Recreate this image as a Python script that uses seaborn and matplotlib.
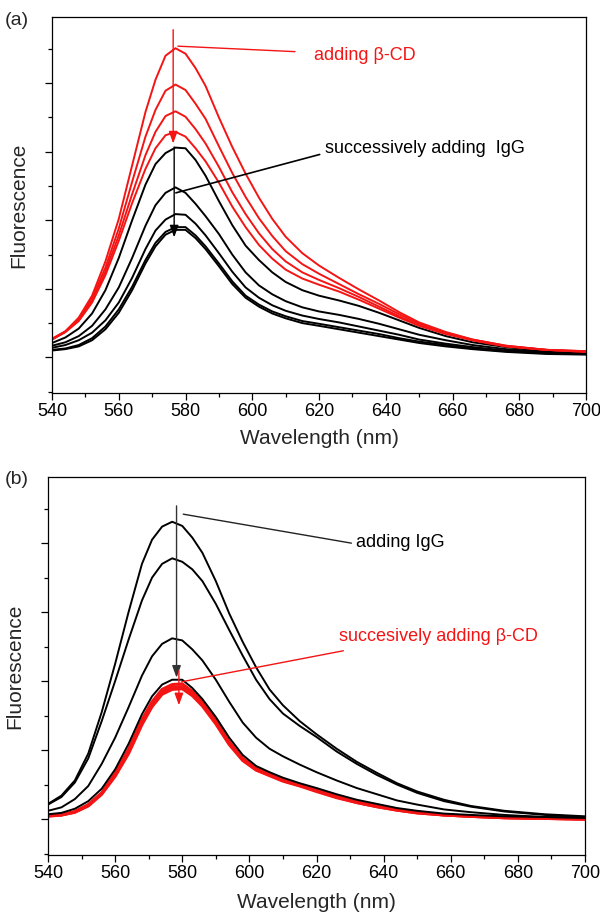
import matplotlib
matplotlib.use("Agg")
import matplotlib.pyplot as plt
import seaborn as sns
import pandas as pd
from matplotlib.ticker import MultipleLocator, NullFormatter

# wavelength grid (nm)
wl = [540, 544, 548, 552, 556, 560, 564, 568, 571, 574, 577, 580, 583, 586, 590, 594,
      598, 602, 606, 610, 615, 620, 626, 632, 638, 644, 650, 658, 666, 676, 688, 700]

# panel (a): probe + beta-CD (red), then successive IgG (black)
a_red1 = [0.27, 0.38, 0.58, 0.90, 1.40, 2.02, 2.80, 3.58, 4.05, 4.40, 4.51, 4.43, 4.22, 3.96, 3.50, 3.07,
          2.68, 2.33, 2.02, 1.76, 1.52, 1.34, 1.16, 0.99, 0.83, 0.66, 0.51, 0.37, 0.26, 0.17, 0.11, 0.09]
a_red2 = [0.27, 0.38, 0.56, 0.86, 1.31, 1.88, 2.56, 3.22, 3.61, 3.89, 3.98, 3.90, 3.70, 3.48, 3.08, 2.69,
          2.34, 2.03, 1.77, 1.55, 1.36, 1.22, 1.07, 0.92, 0.78, 0.63, 0.49, 0.36, 0.26, 0.17, 0.11, 0.09]
a_red3 = [0.26, 0.37, 0.54, 0.82, 1.25, 1.78, 2.38, 2.95, 3.29, 3.52, 3.59, 3.51, 3.33, 3.12, 2.78, 2.41,
          2.09, 1.81, 1.58, 1.40, 1.24, 1.13, 1.01, 0.88, 0.74, 0.60, 0.47, 0.35, 0.25, 0.16, 0.11, 0.08]
a_red4 = [0.26, 0.37, 0.53, 0.80, 1.20, 1.70, 2.25, 2.75, 3.05, 3.24, 3.29, 3.22, 3.05, 2.86, 2.55, 2.20,
          1.90, 1.64, 1.44, 1.28, 1.15, 1.06, 0.96, 0.84, 0.71, 0.58, 0.46, 0.34, 0.25, 0.16, 0.11, 0.08]
a_blk1 = [0.21, 0.29, 0.42, 0.64, 0.98, 1.45, 2.00, 2.52, 2.82, 2.98, 3.06, 3.05, 2.88, 2.65, 2.28, 1.93,
          1.63, 1.42, 1.24, 1.10, 0.98, 0.90, 0.83, 0.75, 0.65, 0.54, 0.43, 0.31, 0.22, 0.15, 0.09, 0.06]
a_blk2 = [0.17, 0.22, 0.31, 0.46, 0.70, 1.02, 1.45, 1.92, 2.22, 2.40, 2.48, 2.40, 2.24, 2.06, 1.80, 1.50,
          1.24, 1.05, 0.92, 0.82, 0.73, 0.67, 0.62, 0.56, 0.49, 0.41, 0.33, 0.25, 0.18, 0.12, 0.08, 0.05]
a_blk3 = [0.14, 0.18, 0.25, 0.36, 0.54, 0.80, 1.16, 1.58, 1.85, 2.01, 2.09, 2.08, 1.95, 1.78, 1.52, 1.25,
          1.02, 0.87, 0.76, 0.68, 0.61, 0.56, 0.51, 0.45, 0.39, 0.33, 0.26, 0.20, 0.15, 0.10, 0.07, 0.05]
a_blk4 = [0.11, 0.13, 0.18, 0.28, 0.45, 0.70, 1.03, 1.42, 1.67, 1.83, 1.90, 1.90, 1.78, 1.62, 1.37, 1.11,
          0.90, 0.77, 0.67, 0.60, 0.53, 0.49, 0.44, 0.39, 0.34, 0.28, 0.23, 0.18, 0.13, 0.09, 0.06, 0.05]
a_blk5 = [0.10, 0.12, 0.16, 0.25, 0.41, 0.65, 0.98, 1.37, 1.62, 1.79, 1.86, 1.86, 1.74, 1.58, 1.33, 1.07,
          0.87, 0.74, 0.64, 0.57, 0.50, 0.46, 0.41, 0.36, 0.31, 0.26, 0.21, 0.16, 0.12, 0.08, 0.05, 0.04]

# panel (b): probe + IgG (black), then successive beta-CD (red)
b_blk1 = [0.22, 0.34, 0.56, 0.95, 1.55, 2.25, 3.00, 3.70, 4.05, 4.24, 4.31, 4.25, 4.08, 3.86, 3.45, 2.98,
          2.57, 2.20, 1.88, 1.65, 1.42, 1.23, 1.02, 0.83, 0.67, 0.52, 0.40, 0.28, 0.19, 0.12, 0.07, 0.04]
b_blk2 = [0.21, 0.32, 0.53, 0.88, 1.42, 2.00, 2.60, 3.17, 3.50, 3.70, 3.78, 3.73, 3.62, 3.45, 3.12, 2.74,
          2.37, 2.02, 1.74, 1.53, 1.35, 1.19, 0.98, 0.80, 0.64, 0.50, 0.38, 0.26, 0.18, 0.11, 0.06, 0.03]
b_blk3 = [0.12, 0.17, 0.29, 0.48, 0.80, 1.18, 1.62, 2.08, 2.36, 2.54, 2.62, 2.59, 2.46, 2.30, 2.02, 1.70,
          1.40, 1.18, 1.02, 0.91, 0.79, 0.68, 0.56, 0.45, 0.36, 0.27, 0.21, 0.14, 0.10, 0.06, 0.03, 0.02]
b_blk4 = [0.07, 0.09, 0.15, 0.26, 0.44, 0.72, 1.09, 1.52, 1.78, 1.95, 2.02, 2.02, 1.90, 1.74, 1.48, 1.18,
          0.93, 0.77, 0.68, 0.60, 0.52, 0.45, 0.36, 0.28, 0.22, 0.16, 0.12, 0.08, 0.06, 0.04, 0.03, 0.02]
b_red1 = [0.05, 0.06, 0.11, 0.21, 0.38, 0.66, 1.01, 1.44, 1.70, 1.88, 1.95, 1.96, 1.85, 1.70, 1.43, 1.12,
          0.88, 0.74, 0.66, 0.57, 0.50, 0.42, 0.33, 0.25, 0.19, 0.14, 0.10, 0.06, 0.04, 0.02, 0.01, 0.00]
b_red2 = [0.05, 0.06, 0.10, 0.20, 0.37, 0.64, 0.98, 1.40, 1.66, 1.84, 1.91, 1.92, 1.82, 1.67, 1.40, 1.10,
          0.86, 0.72, 0.64, 0.56, 0.49, 0.41, 0.32, 0.24, 0.18, 0.13, 0.09, 0.06, 0.04, 0.02, 0.01, 0.00]
b_red3 = [0.04, 0.06, 0.10, 0.19, 0.36, 0.62, 0.95, 1.37, 1.63, 1.81, 1.88, 1.89, 1.79, 1.64, 1.38, 1.08,
          0.85, 0.71, 0.63, 0.55, 0.48, 0.40, 0.31, 0.24, 0.18, 0.13, 0.09, 0.06, 0.04, 0.02, 0.01, 0.00]

RED = "#f41414"

sns.set_style("ticks")
plt.rcParams['font.family'] = ['Liberation Sans', 'DejaVu Sans']


def long_df(curves):
    rows = []
    for name, vals in curves.items():
        for x, y in zip(wl, vals):
            rows.append({"wavelength": x, "fluorescence": y, "curve": name})
    return pd.DataFrame(rows)


def style_axis(ax, xpad):
    ax.set_xlim(540, 700)
    ax.set_ylim(-0.52, 4.96)
    ax.xaxis.set_major_locator(MultipleLocator(20))
    ax.xaxis.set_minor_locator(MultipleLocator(10))
    ax.yaxis.set_major_locator(MultipleLocator(1))
    ax.yaxis.set_minor_locator(MultipleLocator(0.5))
    ax.yaxis.set_major_formatter(NullFormatter())
    ax.tick_params(which="major", direction="out", length=5, width=0.9, labelsize=13, pad=2,
                   color="black", labelcolor="black")
    ax.tick_params(which="minor", direction="out", length=3, width=0.9, color="black")
    ax.tick_params(which="both", top=False, right=False)
    for s in ax.spines.values():
        s.set_visible(True)
        s.set_linewidth(0.9)
        s.set_color("black")
    ax.set_xlabel("Wavelength (nm)", fontsize=15, labelpad=xpad)
    ax.set_ylabel("Fluorescence", fontsize=15, labelpad=10)


def draw(ax, curves, colors, lw):
    df = long_df(curves)
    sns.lineplot(data=df, x="wavelength", y="fluorescence", hue="curve", palette=colors,
                 estimator=None, legend=False, linewidth=lw, ax=ax)


def leader(ax, p0, p1, color, lw=1.0):
    ax.annotate("", xy=p1, xytext=p0,
                arrowprops=dict(arrowstyle="-", color=color, lw=lw, shrinkA=0, shrinkB=0))


def down_arrow(ax, x, y0, y1, color):
    ax.annotate("", xy=(x, y1), xytext=(x, y0),
                arrowprops=dict(arrowstyle="-|>,head_width=0.22,head_length=0.6", color=color,
                                lw=1.0, shrinkA=0, shrinkB=0, mutation_scale=12))


fig = plt.figure(figsize=(6, 9.14), dpi=100)
ax_a = fig.add_axes([0.0867, 0.570, 0.89, 0.411])
ax_b = fig.add_axes([0.080, 0.0646, 0.895, 0.4136])

# (a)
curves_a = {"b1": a_blk1, "b2": a_blk2, "b3": a_blk3, "b4": a_blk4, "b5": a_blk5,
            "r1": a_red1, "r2": a_red2, "r3": a_red3, "r4": a_red4}
colors_a = {k: ("black" if k.startswith("b") else RED) for k in curves_a}
draw(ax_a, curves_a, colors_a, 1.4)
style_axis(ax_a, 7)
down_arrow(ax_a, 576.3, 4.78, 3.12, RED)
down_arrow(ax_a, 576.6, 3.07, 1.75, "black")
leader(ax_a, (577.7, 4.54), (612.8, 4.46), RED)
ax_a.text(618.4, 4.41, "adding β-CD", color=RED, fontsize=13, va="center", ha="left")
leader(ax_a, (577.1, 2.40), (620.2, 2.96), "black", 1.2)
ax_a.text(621.8, 3.05, "successively adding  IgG", color="black", fontsize=13,
          va="center", ha="left")

# (b)
curves_b = {"r1": b_red1, "r2": b_red2, "r3": b_red3,
            "b1": b_blk1, "b2": b_blk2, "b3": b_blk3, "b4": b_blk4}
colors_b = {k: ("black" if k.startswith("b") else RED) for k in curves_b}
draw(ax_b, {k: curves_b[k] for k in ["r1", "r2", "r3"]}, colors_b, 2.2)
draw(ax_b, {k: curves_b[k] for k in ["b1", "b2", "b3", "b4"]}, colors_b, 1.4)
style_axis(ax_b, 8)
down_arrow(ax_b, 578.3, 4.54, 2.05, "#333333")
down_arrow(ax_b, 579.0, 2.15, 1.65, RED)
leader(ax_b, (580.3, 4.42), (630.4, 4.00), "#222222")
ax_b.text(631.8, 4.01, "adding IgG", color="black", fontsize=13, va="center", ha="left")
leader(ax_b, (579.8, 1.99), (628.0, 2.44), RED)
ax_b.text(626.6, 2.65, "succesively adding β-CD", color=RED, fontsize=13, va="center", ha="left")

fig.text(0.008, 0.978, "(a)", fontsize=14, va="center", ha="left")
fig.text(0.008, 0.475, "(b)", fontsize=14, va="center", ha="left")

fig.savefig("out.png", dpi=100)
